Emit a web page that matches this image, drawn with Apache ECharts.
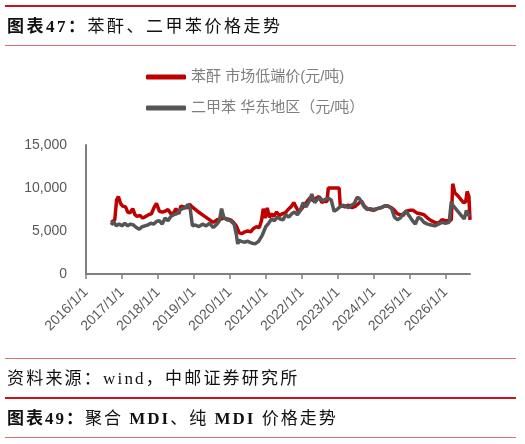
<!DOCTYPE html>
<html>
<head>
<meta charset="utf-8">
<script src="https://cdn.jsdelivr.net/npm/echarts@6/dist/echarts.min.js"></script>
<style>
    body{ margin:0; background:#fff; }
    .page{ position:relative; width:525px; height:444px; overflow:hidden; }
    .rule{ position:absolute; left:5px; width:511px; }
    .thick{ height:2px; background:#c8161d; }
    .thin{ height:1px; background:#e27070; }
    .cap{
        position:absolute; left:7px; height:20px; line-height:20px;
        font-family:"Liberation Serif","Noto Sans CJK SC"; font-size:17px; color:#111;
        white-space:nowrap;
    }
    .cap b{ font-weight:bold; }
    #myChart{ position:absolute; left:0; top:0; width:525px; height:444px; }
</style>
</head>
<body>
<div class="page">
    <div id="myChart"></div>
    <div class="rule thick" style="top:5px;"></div>
    <div class="cap" style="top:17px;letter-spacing:2.5px;"><b>图表47：</b>苯酐、二甲苯价格走势</div>
    <div class="rule thin" style="top:45px;"></div>
    <div class="rule thin" style="top:358px;"></div>
    <div class="cap" style="top:369px;letter-spacing:2.2px;">资料来源：wind，中邮证券研究所</div>
    <div class="rule thick" style="top:397px;"></div>
    <div class="cap" style="top:409px;letter-spacing:2px;"><b>图表49：</b>聚合 <b>MDI</b>、纯 <b>MDI</b> 价格走势</div>
    <div class="rule thin" style="top:437px;"></div>
</div>

<script>
// 图例名称
var seriesNames = ['苯酐 市场低端价(元/吨)', '二甲苯 华东地区（元/吨）'];
// 横轴刻度(年份)
var tickYears = [2016, 2017, 2018, 2019, 2020, 2021, 2022, 2023, 2024, 2025, 2026];

// 苯酐 时间(年份小数) / 价格
var redT = [2016.70, 2016.80, 2016.85, 2016.90, 2016.96, 2017.02, 2017.10, 2017.16, 2017.22, 2017.30, 2017.36,
    2017.42, 2017.50, 2017.58, 2017.66, 2017.74, 2017.82, 2017.90, 2017.96, 2018.04, 2018.12, 2018.20,
    2018.28, 2018.36, 2018.44, 2018.50, 2018.58, 2018.64, 2018.72, 2018.80, 2018.88, 2018.95, 2019.10,
    2019.30, 2019.54, 2019.65, 2019.75, 2019.85, 2019.93, 2020.02, 2020.10, 2020.18, 2020.26, 2020.34,
    2020.42, 2020.50, 2020.58, 2020.66, 2020.74, 2020.82, 2020.88, 2020.93, 2020.98, 2021.04, 2021.10,
    2021.16, 2021.22, 2021.30, 2021.38, 2021.46, 2021.54, 2021.62, 2021.70, 2021.78, 2021.84, 2021.92,
    2022.00, 2022.08, 2022.16, 2022.24, 2022.32, 2022.40, 2022.48, 2022.56, 2022.64, 2022.70, 2022.74,
    2022.80, 2022.92, 2023.04, 2023.07, 2023.12, 2023.20, 2023.30, 2023.40, 2023.50, 2023.58, 2023.66,
    2023.74, 2023.82, 2023.90, 2024.00, 2024.10, 2024.20, 2024.30, 2024.40, 2024.50, 2024.58, 2024.66,
    2024.74, 2024.82, 2024.90, 2025.00, 2025.10, 2025.20, 2025.30, 2025.40, 2025.50, 2025.60, 2025.70,
    2025.80, 2025.90, 2026.00, 2026.10, 2026.16, 2026.20, 2026.26, 2026.32, 2026.38, 2026.44, 2026.50,
    2026.56, 2026.60, 2026.65, 2026.68];
var redP = [6000, 6300, 8600, 9000, 8200, 7900, 7800, 7200, 7100, 7600, 6900,
    6700, 6800, 6500, 6700, 6900, 7000, 7800, 8200, 7300, 7200, 7300,
    7500, 7000, 7100, 7600, 7000, 7900, 7800, 7700, 8100, 7800, 7300,
    6700, 6000, 6300, 6400, 6500, 6400, 6300, 6000, 5600, 4800, 4700,
    4900, 5000, 4900, 5300, 5500, 5400, 6200, 7600, 6500, 7700, 6600,
    7000, 6700, 7200, 6800, 7000, 7100, 7500, 7800, 8300, 7800, 7200,
    7600, 8000, 8500, 8900, 8500, 8800, 9000, 8300, 8500, 8400, 10000,
    10000, 10000, 10000, 8000, 7900, 7800, 8000, 7700, 7900, 8200, 8500,
    7900, 7600, 7500, 7400, 7600, 7700, 7900, 7900, 7700, 7400, 7000,
    6900, 6800, 7300, 7400, 7400, 7100, 7000, 6900, 6500, 6200, 6000,
    5900, 6300, 6200, 6200, 6300, 10500, 9400, 9200, 8900, 8600, 8300,
    8400, 9600, 9000, 6300];

// 二甲苯 时间(年份小数) / 价格
var grayT = [2016.70, 2016.76, 2016.84, 2016.92, 2017.00, 2017.08, 2017.16, 2017.24, 2017.32, 2017.40, 2017.48,
    2017.56, 2017.64, 2017.72, 2017.80, 2017.88, 2017.96, 2018.04, 2018.12, 2018.20, 2018.28, 2018.36,
    2018.44, 2018.52, 2018.60, 2018.68, 2018.76, 2018.84, 2018.90, 2018.96, 2019.04, 2019.14, 2019.24,
    2019.34, 2019.44, 2019.54, 2019.64, 2019.71, 2019.77, 2019.84, 2019.92, 2020.02, 2020.12, 2020.18,
    2020.22, 2020.26, 2020.32, 2020.40, 2020.50, 2020.60, 2020.70, 2020.80, 2020.90, 2021.00, 2021.08,
    2021.16, 2021.24, 2021.32, 2021.40, 2021.48, 2021.56, 2021.64, 2021.72, 2021.80, 2021.88, 2021.96,
    2022.04, 2022.12, 2022.20, 2022.28, 2022.36, 2022.42, 2022.50, 2022.58, 2022.66, 2022.74, 2022.82,
    2022.90, 2022.98, 2023.06, 2023.14, 2023.22, 2023.30, 2023.38, 2023.46, 2023.54, 2023.60, 2023.66,
    2023.74, 2023.82, 2023.90, 2024.00, 2024.10, 2024.20, 2024.30, 2024.40, 2024.50, 2024.58, 2024.66,
    2024.74, 2024.82, 2024.90, 2025.00, 2025.08, 2025.16, 2025.24, 2025.32, 2025.40, 2025.50, 2025.60,
    2025.70, 2025.80, 2025.90, 2026.00, 2026.10, 2026.16, 2026.20, 2026.28, 2026.36, 2026.44, 2026.52,
    2026.58, 2026.63, 2026.68];
var grayP = [5700, 6100, 5600, 5800, 5600, 5900, 5600, 5800, 5700, 5400, 5200,
    5500, 5600, 5700, 5900, 5800, 6100, 6200, 5800, 6500, 6200, 6700,
    6900, 7000, 7400, 7600, 7700, 8100, 7500, 5600, 5700, 5500, 5800,
    5600, 5900, 5400, 5800, 6200, 7600, 6500, 6300, 6200, 5800, 4600,
    3500, 3900, 3800, 3700, 3800, 3600, 3500, 3800, 4500, 5500, 5900,
    6400, 6200, 6600, 6400, 6300, 6900, 6600, 7000, 7200, 6900, 7400,
    8300, 7800, 8400, 9300, 8300, 8600, 8900, 8500, 8700, 8800, 8600,
    7300, 7500, 7800, 8000, 7900, 7700, 8000, 8200, 8900, 8800, 8400,
    7800, 7500, 7600, 7500, 7600, 7700, 7900, 7900, 7600, 6600, 6300,
    6500, 7000, 7300, 6700, 6200, 5800, 6600, 6400, 6000, 5800, 5700,
    5600, 5800, 6000, 5900, 6000, 8400, 8000, 7600, 7200, 6800, 6400,
    7400, 6900, 6700];

function pairs(t, p){
    var out = [];
    for (var i = 0; i < t.length; i++) out.push([t[i], p[i]]);
    return out;
}

var myChart = echarts.init(document.getElementById('myChart'));
var axisColor = '#7f7f7f';
var labelColor = '#595959';
var fontFamily = '"Liberation Sans", "Noto Sans CJK SC", sans-serif';

myChart.setOption({
    animation: false,
    legend: {
        orient: 'vertical',
        left: 146,
        top: 69,
        padding: 0,
        icon: 'roundRect',
        itemWidth: 40,
        itemHeight: 5,
        itemGap: 15,
        textStyle: { fontSize: 15, lineHeight: 16, color: '#7f7f7f', fontFamily: fontFamily },
        data: seriesNames
    },
    grid: {
        left: 86,
        right: 55,
        top: 145,
        bottom: 170,
        containLabel: false,
        outerBoundsMode: 'none'
    },
    xAxis: {
        type: 'value',
        min: 2016,
        max: 2026.68,
        interval: 1,
        splitLine: { show: false },
        axisLine: { show: true, lineStyle: { color: axisColor, width: 2 } },
        axisTick: { show: true, length: 5, customValues: tickYears, lineStyle: { color: axisColor, width: 1.5 } },
        axisLabel: {
            rotate: 45,
            margin: 16,
            fontSize: 14,
            color: labelColor,
            fontFamily: fontFamily,
            customValues: tickYears,
            formatter: function (v) { return Math.round(v) + '/1/1'; }
        }
    },
    yAxis: {
        type: 'value',
        min: 0,
        max: 15000,
        interval: 5000,
        splitLine: { show: false },
        axisLine: { show: true, lineStyle: { color: axisColor, width: 2 } },
        axisTick: { show: false },
        axisLabel: {
            margin: 19,
            fontSize: 14,
            color: labelColor,
            fontFamily: fontFamily,
            formatter: function (v) { return String(v).replace(/\B(?=(\d{3})+(?!\d))/g, ','); }
        }
    },
    series: [
        {
            name: seriesNames[0],
            type: 'line',
            showSymbol: false,
            color: '#c00000',
            lineStyle: { width: 3.5, color: '#c00000' },
            data: pairs(redT, redP)
        },
        {
            name: seriesNames[1],
            type: 'line',
            showSymbol: false,
            color: '#555555',
            lineStyle: { width: 3.5, color: '#555555' },
            data: pairs(grayT, grayP)
        }
    ]
});
</script>
</body>
</html>
